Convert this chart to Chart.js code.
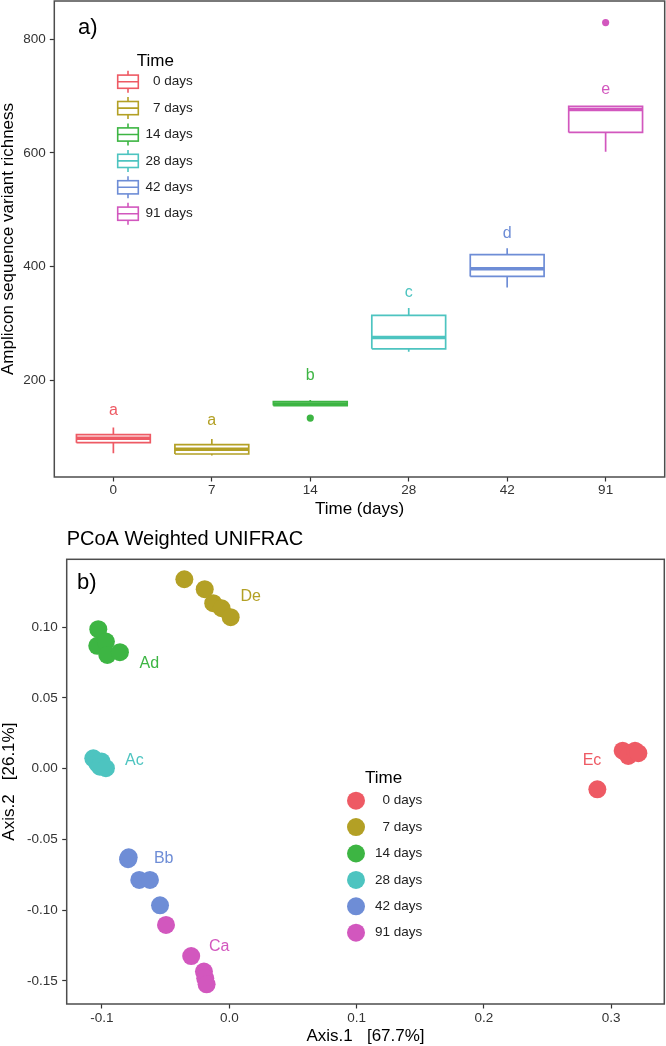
<!DOCTYPE html>
<html>
<head>
<meta charset="utf-8">
<script src="https://cdn.jsdelivr.net/npm/chart.js@4.4.1/dist/chart.umd.min.js"></script>
<style>
  body { margin: 0; background: #fff; }
  #wrap { position: relative; width: 666px; height: 1046px; }
  canvas { position: absolute; left: 0; }
  #top { top: 0; }
  #bottom { top: 522px; }
</style>
</head>
<body>
<div id="wrap">
  <canvas id="top" width="666" height="522"></canvas>
  <canvas id="bottom" width="666" height="524"></canvas>
</div>
<script>
const FONT = '"Liberation Sans", Arial, Helvetica, sans-serif';

// groups / colours
const timeLabels = ['0', '7', '14', '28', '42', '91'];
const legendLabels = ['0 days', '7 days', '14 days', '28 days', '42 days', '91 days'];
const colors = ['#EE5A64', '#B3A025', '#3DB543', '#4DC4C0', '#6E8DD6', '#D257BE'];

// panel a) boxplot stats (ASV richness)
const whiskerLow  = [71, 67, 155, 250, 363, 602];
const q1          = [89.6, 69.7, 155, 255, 382.5, 636];
const median      = [97.4, 78, 158, 275, 396, 676.5];
const q3          = [103.7, 86.1, 162, 314, 421, 682];
const whiskerHigh = [116.5, 96.2, 165, 327, 432, 682];
const outliers    = [[], [], [133], [], [], [829.5]];
const letters     = ['a', 'a', 'b', 'c', 'd', 'e'];
const letterY     = [145.5, 128.4, 207.6, 353.8, 458.4, 710.8];
const richTicks   = [200, 400, 600, 800];

// panel b) PCoA coordinates
const axis1 = [
  [0.3090, 0.3134, 0.3187, 0.3213, 0.2891],
  [-0.0353, -0.0193, -0.0126, -0.0060, 0.0011],
  [-0.1029, -0.1037, -0.0969, -0.0958, -0.0859],
  [-0.1068, -0.1037, -0.1003, -0.1016, -0.0969],
  [-0.0795, -0.0790, -0.0707, -0.0623, -0.0544],
  [-0.0497, -0.0299, -0.0199, -0.0189, -0.0178]
];
const axis2 = [
  [0.0127, 0.0090, 0.0127, 0.0109, -0.0146],
  [0.1339, 0.1269, 0.1170, 0.1134, 0.1071],
  [0.0986, 0.0868, 0.0898, 0.0804, 0.0823],
  [0.0073, 0.0038, 0.0050, 0.0014, 0.0003],
  [-0.0640, -0.0627, -0.0787, -0.0787, -0.0966],
  [-0.1105, -0.1325, -0.1435, -0.1482, -0.1525]
];
const sampleNames = ['Ec', 'De', 'Ad', 'Ac', 'Bb', 'Ca'];
const nameX = [0.2849, 0.0168, -0.0628, -0.0745, -0.0515, -0.0079];
const nameY = [0.0057, 0.1218, 0.0745, 0.0057, -0.0634, -0.1259];
const pcoaXTicks = [-0.1, 0.0, 0.1, 0.2, 0.3];
const pcoaYTicks = [-0.15, -0.10, -0.05, 0.00, 0.05, 0.10];

const BOX_W = 0.75;
const GAP = {x: NaN, y: NaN};

function boxOutline(i) {
  const l = i - BOX_W / 2, r = i + BOX_W / 2;
  return [
    {x: l, y: q1[i]}, {x: r, y: q1[i]}, {x: r, y: q3[i]}, {x: l, y: q3[i]}, {x: l, y: q1[i]},
    GAP,
    {x: i, y: q3[i]}, {x: i, y: whiskerHigh[i]},
    GAP,
    {x: i, y: q1[i]}, {x: i, y: whiskerLow[i]}
  ];
}

const boxDatasets = [];
timeLabels.forEach((t, i) => {
  boxDatasets.push({
    data: boxOutline(i), showLine: true, spanGaps: false, borderColor: colors[i],
    borderWidth: 1.7, pointRadius: 0
  });
  boxDatasets.push({
    data: [{x: i - BOX_W / 2, y: median[i]}, {x: i + BOX_W / 2, y: median[i]}], showLine: true,
    borderColor: colors[i], borderWidth: 3.4, pointRadius: 0
  });
  boxDatasets.push({
    data: outliers[i].map(v => ({x: i, y: v})), showLine: false,
    pointRadius: 3.6, backgroundColor: colors[i], borderWidth: 0
  });
});

// drop the label overhang padding Chart.js reserves so the panel fills the box
function noPad(s) {
  s.paddingTop = 0; s.paddingBottom = 0; s.paddingLeft = 0; s.paddingRight = 0;
}

function frame(ctx, a) {
  ctx.strokeStyle = '#4d4d4d';
  ctx.lineWidth = 1.5;
  ctx.strokeRect(a.left, a.top, a.right - a.left, a.bottom - a.top);
}

const boxExtras = {
  id: 'boxExtras',
  afterDraw(chart) {
    const {ctx, chartArea, scales: {x, y}} = chart;
    ctx.save();
    frame(ctx, chartArea);
    ctx.textAlign = 'center';
    ctx.textBaseline = 'middle';
    ctx.font = '16px ' + FONT;
    letters.forEach((s, i) => {
      ctx.fillStyle = colors[i];
      ctx.fillText(s, x.getPixelForValue(i), y.getPixelForValue(letterY[i]));
    });
    ctx.fillStyle = '#000';
    ctx.textAlign = 'left';
    ctx.font = '22px ' + FONT;
    ctx.fillText('a)', 78, 28);
    // legend
    ctx.font = '17px ' + FONT;
    ctx.fillText('Time', 136.7, 61);
    ctx.font = '13.5px ' + FONT;
    legendLabels.forEach((s, i) => {
      const cy = 81.7 + i * 26.4, cx = 128;
      ctx.strokeStyle = colors[i];
      ctx.lineWidth = 1.6;
      ctx.strokeRect(cx - 10.3, cy - 6.6, 20.6, 13.2);
      ctx.beginPath();
      ctx.moveTo(cx - 10.3, cy); ctx.lineTo(cx + 10.3, cy);
      ctx.moveTo(cx, cy - 6.6); ctx.lineTo(cx, cy - 11);
      ctx.moveTo(cx, cy + 6.6); ctx.lineTo(cx, cy + 11);
      ctx.stroke();
      ctx.fillStyle = '#222';
      ctx.textAlign = 'right';
      ctx.fillText(s, 192.7, cy);
    });
    ctx.restore();
  }
};

new Chart(document.getElementById('top'), {
  type: 'scatter',
  data: {datasets: boxDatasets},
  options: {
    responsive: false, animation: false, devicePixelRatio: 1,
    layout: {autoPadding: false, padding: {top: 1, right: 1.3, left: 0, bottom: 0}},
    plugins: {legend: {display: false}, tooltip: {enabled: false}},
    scales: {
      x: {
        type: 'linear', min: -0.6, max: 5.6,
        afterFit: s => { s.height = 45; noPad(s); },
        afterBuildTicks: s => { s.ticks = timeLabels.map((t, i) => ({value: i})); },
        grid: {drawOnChartArea: false, drawTicks: true, tickLength: 4.5, tickColor: '#333', tickWidth: 1.2},
        border: {display: false},
        ticks: {autoSkip: false, maxRotation: 0, padding: 0.5, color: '#333', font: {family: FONT, size: 13.5},
          callback: v => timeLabels[v]},
        title: {display: true, text: 'Time (days)', color: '#000', font: {family: FONT, size: 17, lineHeight: 1.2},
          padding: {top: 0, bottom: 2.5}}
      },
      y: {
        type: 'linear', min: 29.2, max: 867.5,
        afterFit: s => { s.width = 54.3; noPad(s); },
        afterBuildTicks: s => { s.ticks = richTicks.map(v => ({value: v})); },
        grid: {drawOnChartArea: false, drawTicks: true, tickLength: 4.5, tickColor: '#333', tickWidth: 1.2},
        border: {display: false},
        ticks: {padding: 4, color: '#333', font: {family: FONT, size: 13.5}},
        title: {display: true, text: 'Amplicon sequence variant richness', color: '#000',
          font: {family: FONT, size: 17, lineHeight: 1}, padding: {top: 0, bottom: 0}}
      }
    }
  },
  plugins: [boxExtras]
});

const pcoaExtras = {
  id: 'pcoaExtras',
  afterDraw(chart) {
    const {ctx, chartArea, scales: {x, y}} = chart;
    ctx.save();
    frame(ctx, chartArea);
    ctx.textAlign = 'center';
    ctx.textBaseline = 'middle';
    ctx.font = '16px ' + FONT;
    sampleNames.forEach((s, i) => {
      ctx.fillStyle = colors[i];
      ctx.fillText(s, x.getPixelForValue(nameX[i]), y.getPixelForValue(nameY[i]));
    });
    ctx.fillStyle = '#000';
    ctx.textAlign = 'left';
    ctx.font = '20px ' + FONT;
    ctx.fillText('PCoA Weighted UNIFRAC', 66.7, 17);
    ctx.font = '22px ' + FONT;
    ctx.fillText('b)', 77, 60.5);
    // legend
    ctx.font = '17px ' + FONT;
    ctx.fillText('Time', 365, 256.7);
    ctx.font = '13.5px ' + FONT;
    legendLabels.forEach((s, i) => {
      const cy = 278.7 + i * 26.4;
      ctx.fillStyle = colors[i];
      ctx.beginPath();
      ctx.arc(356, cy, 9, 0, Math.PI * 2);
      ctx.fill();
      ctx.fillStyle = '#222';
      ctx.textAlign = 'right';
      ctx.fillText(s, 422.3, cy);
    });
    ctx.restore();
  }
};

new Chart(document.getElementById('bottom'), {
  type: 'scatter',
  data: {
    datasets: timeLabels.map((t, i) => ({
      label: legendLabels[i],
      data: axis1[i].map((v, j) => ({x: v, y: axis2[i][j]})),
      pointRadius: 9, backgroundColor: colors[i], borderWidth: 0
    }))
  },
  options: {
    responsive: false, animation: false, devicePixelRatio: 1,
    layout: {autoPadding: false, padding: {top: 37.3, right: 1.7, left: 0, bottom: 0}},
    plugins: {legend: {display: false}, tooltip: {enabled: false}},
    scales: {
      x: {
        type: 'linear', min: -0.1277, max: 0.3417,
        afterFit: s => { s.height = 42; noPad(s); },
        afterBuildTicks: s => { s.ticks = pcoaXTicks.map(v => ({value: v})); },
        grid: {drawOnChartArea: false, drawTicks: true, tickLength: 4.5, tickColor: '#333', tickWidth: 1.2},
        border: {display: false},
        ticks: {autoSkip: false, maxRotation: 0, padding: 1.5, color: '#333', font: {family: FONT, size: 13.5},
          callback: v => v.toFixed(1)},
        title: {display: true, text: 'Axis.1   [67.7%]', color: '#000', font: {family: FONT, size: 17, lineHeight: 1},
          padding: {top: 0, bottom: 0.8}}
      },
      y: {
        type: 'linear', min: -0.1664, max: 0.148,
        afterFit: s => { s.width = 66.7; noPad(s); },
        afterBuildTicks: s => { s.ticks = pcoaYTicks.map(v => ({value: v})); },
        grid: {drawOnChartArea: false, drawTicks: true, tickLength: 4.5, tickColor: '#333', tickWidth: 1.2},
        border: {display: false},
        ticks: {padding: 4.5, color: '#333', font: {family: FONT, size: 13.5},
          callback: v => v.toFixed(2)},
        title: {display: true, text: 'Axis.2   [26.1%]', color: '#000',
          font: {family: FONT, size: 17, lineHeight: 1}, padding: {top: 0.5, bottom: 0}}
      }
    }
  },
  plugins: [pcoaExtras]
});
</script>
</body>
</html>
